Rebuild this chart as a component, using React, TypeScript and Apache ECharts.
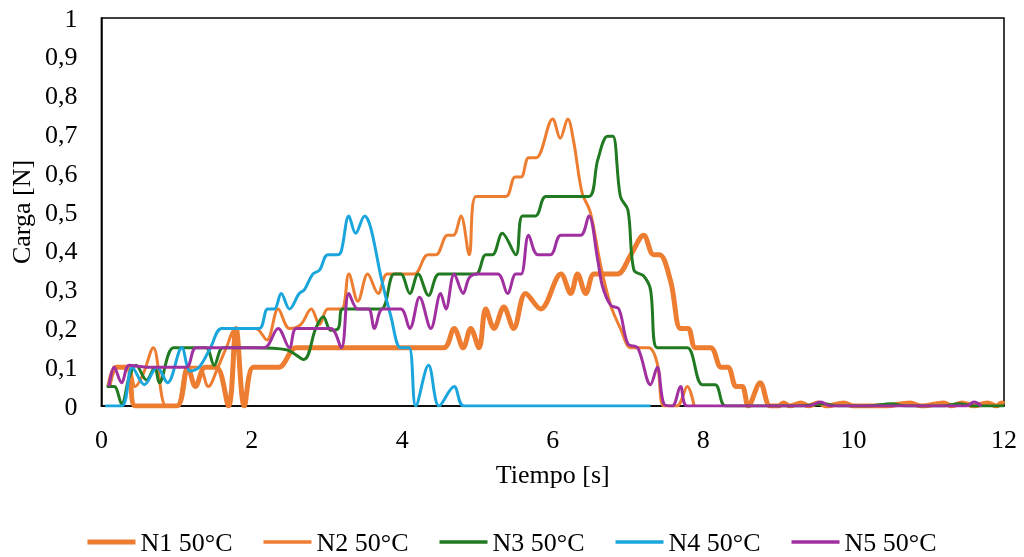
import React, { useEffect, useRef } from "react";
import * as echarts from "echarts";

const seriesNames = ["N1 50°C", "N2 50°C", "N3 50°C", "N4 50°C", "N5 50°C"];
const xTicks = [0, 2, 4, 6, 8, 10, 12];

const n1: number[][] = [
  [0.1, 0.05], [0.2, 0.1], [0.35, 0.1], [0.45, 0], [0.7, 0], [1.0, 0], [1.15, 0.1], [1.25, 0.05], [1.38, 0.1],
  [1.53, 0.1], [1.69, 0], [1.79, 0.2], [1.9, 0], [2.02, 0.1], [2.2, 0.1], [2.36, 0.1], [2.59, 0.15], [3.0, 0.15],
  [3.5, 0.15], [4.0, 0.15], [4.55, 0.15], [4.69, 0.2], [4.81, 0.15], [4.91, 0.2], [5.02, 0.15], [5.11, 0.25],
  [5.22, 0.2], [5.35, 0.255], [5.48, 0.2], [5.64, 0.29], [5.84, 0.25], [6.11, 0.34], [6.24, 0.29], [6.33, 0.34],
  [6.44, 0.29], [6.55, 0.34], [6.7, 0.34], [6.86, 0.34], [7.04, 0.39], [7.21, 0.44], [7.34, 0.39], [7.42, 0.39],
  [7.57, 0.32], [7.7, 0.2], [7.8, 0.2], [7.9, 0.15], [8.1, 0.15], [8.24, 0.1], [8.33, 0.1], [8.44, 0.05],
  [8.52, 0.05], [8.6, 0], [8.76, 0.06], [8.89, 0], [9.0, 0], [9.07, 0.008], [9.15, 0], [9.3, 0.008], [9.4, 0],
  [9.53, 0.008], [9.65, 0], [9.87, 0.008], [10.0, 0], [10.4, 0], [10.75, 0.008], [10.9, 0], [11.2, 0.008],
  [11.3, 0], [11.44, 0.008], [11.6, 0], [11.78, 0.008], [11.9, 0], [11.97, 0.008], [12, 0.005]
];

const n2: number[][] = [
  [0.15, 0.1], [0.35, 0.1], [0.45, 0.05], [0.55, 0.08], [0.69, 0.15], [0.86, 0], [1.0, 0], [1.15, 0.1],
  [1.3, 0.1], [1.42, 0.05], [1.55, 0.1], [1.66, 0.15], [1.8, 0.2], [2.05, 0.2], [2.2, 0.17], [2.35, 0.25],
  [2.5, 0.2], [2.65, 0.21], [2.79, 0.25], [2.9, 0.21], [3.01, 0.25], [3.19, 0.25], [3.29, 0.34], [3.41, 0.27],
  [3.54, 0.34], [3.68, 0.29], [3.8, 0.34], [4.0, 0.34], [4.16, 0.34], [4.34, 0.39], [4.45, 0.39], [4.6, 0.44],
  [4.68, 0.44], [4.78, 0.49], [4.89, 0.39], [4.98, 0.54], [5.2, 0.54], [5.38, 0.54], [5.5, 0.59], [5.58, 0.59],
  [5.68, 0.64], [5.78, 0.64], [6.0, 0.74], [6.1, 0.69], [6.2, 0.74], [6.28, 0.68], [6.39, 0.55], [6.5, 0.5],
  [6.64, 0.36], [6.77, 0.26], [6.9, 0.2], [7.04, 0.15], [7.15, 0.15], [7.28, 0.15], [7.39, 0.11], [7.48, 0],
  [7.65, 0], [7.79, 0.05], [7.88, 0]
];

const n3: number[][] = [
  [0.07, 0.05], [0.17, 0.05], [0.27, 0.005], [0.37, 0.075], [0.46, 0.105], [0.6, 0.067], [0.71, 0.1],
  [0.77, 0.06], [0.96, 0.15], [1.2, 0.15], [1.39, 0.15], [1.5, 0.105], [1.62, 0.15], [2.0, 0.15], [2.46, 0.145],
  [2.69, 0.12], [2.85, 0.2], [2.95, 0.23], [3.05, 0.195], [3.15, 0.2], [3.21, 0.25], [3.5, 0.25], [3.72, 0.25],
  [3.89, 0.34], [3.98, 0.34], [4.1, 0.29], [4.21, 0.34], [4.35, 0.285], [4.49, 0.34], [4.75, 0.34], [4.98, 0.34],
  [5.11, 0.39], [5.2, 0.39], [5.33, 0.445], [5.51, 0.39], [5.6, 0.49], [5.77, 0.49], [5.91, 0.54], [6.2, 0.54],
  [6.48, 0.54], [6.6, 0.635], [6.73, 0.695], [6.8, 0.695], [6.9, 0.54], [7.0, 0.505], [7.08, 0.35], [7.21, 0.335],
  [7.3, 0.3], [7.39, 0.15], [7.6, 0.15], [7.79, 0.15], [7.99, 0.055], [8.16, 0.055], [8.3, 0], [8.8, 0],
  [9.3, 0], [9.6, 0.006], [9.8, 0], [10.2, 0], [10.5, 0.006], [10.7, 0], [11.2, 0], [11.4, 0.006], [11.6, 0], [12, 0]
];

const n4: number[][] = [
  [0.05, 0], [0.27, 0], [0.41, 0.1], [0.57, 0.055], [0.74, 0.1], [0.88, 0.06], [1.07, 0.15], [1.18, 0.09],
  [1.3, 0.1], [1.45, 0.15], [1.6, 0.2], [1.85, 0.2], [2.1, 0.2], [2.21, 0.25], [2.3, 0.25], [2.39, 0.29],
  [2.5, 0.25], [2.63, 0.29], [2.7, 0.3], [2.81, 0.34], [2.9, 0.35], [3.01, 0.39], [3.14, 0.39], [3.19, 0.4],
  [3.29, 0.49], [3.38, 0.445], [3.5, 0.49], [3.58, 0.46], [3.72, 0.33], [3.85, 0.23], [3.98, 0.15], [4.09, 0.15],
  [4.18, 0], [4.35, 0.105], [4.49, 0], [4.69, 0.05], [4.82, 0], [5.5, 0], [6.5, 0], [7.3, 0]
];

const n5: number[][] = [
  [0.1, 0.05], [0.17, 0.1], [0.27, 0.06], [0.37, 0.105], [0.6, 0.1], [0.9, 0.1], [1.13, 0.1], [1.26, 0.15],
  [1.6, 0.15], [2.16, 0.15], [2.35, 0.2], [2.5, 0.15], [2.59, 0.2], [2.8, 0.2], [3.05, 0.2], [3.19, 0.15],
  [3.29, 0.29], [3.41, 0.25], [3.55, 0.25], [3.63, 0.2], [3.74, 0.25], [3.98, 0.25], [4.1, 0.2], [4.23, 0.28],
  [4.38, 0.2], [4.51, 0.29], [4.58, 0.25], [4.69, 0.34], [4.81, 0.29], [4.89, 0.33], [5.0, 0.34], [5.27, 0.34],
  [5.4, 0.29], [5.51, 0.34], [5.58, 0.34], [5.68, 0.44], [5.8, 0.39], [5.97, 0.39], [6.11, 0.44], [6.37, 0.44],
  [6.48, 0.49], [6.6, 0.375], [6.66, 0.31], [6.77, 0.26], [6.88, 0.25], [7.0, 0.16], [7.13, 0.15], [7.3, 0.055],
  [7.39, 0.1], [7.48, 0.005], [7.59, 0], [7.7, 0.05], [7.79, 0], [8.5, 0], [9.4, 0], [9.56, 0.01], [9.7, 0],
  [10.5, 0], [11.5, 0], [11.6, 0.01], [11.7, 0]
];

const seriesData = [n1, n2, n3, n4, n5];
const colors = ["#ED7D31", "#ED7D31", "#217A21", "#1AA6DD", "#A0309F"];
const widths = [5, 3, 3, 3, 3];

const FONT = "Liberation Serif";

export default function App() {
  const ref = useRef<HTMLDivElement>(null);
  useEffect(() => {
    if (!ref.current) return;
    const chart = echarts.init(ref.current, undefined, { renderer: "svg" });
    chart.setOption({
      animation: false,
      textStyle: { fontFamily: FONT, color: "#000" },
      grid: {
        left: 100, right: 20, top: 18, bottom: 151,
        show: true, borderColor: "#000", borderWidth: 1.5,
      },
      legend: {
        data: seriesNames.map((name, i) => ({
          name,
          icon: i === 0 ? "path://M0,0H48V5H0Z" : "path://M0,0H48V3.5H0Z",
        })),
        top: 524,
        left: "center",
        itemWidth: 48,
        itemHeight: 5,
        itemGap: 31,
        textStyle: { fontFamily: FONT, fontSize: 26, color: "#000" },
      },
      xAxis: {
        type: "value",
        min: xTicks[0],
        max: xTicks[xTicks.length - 1],
        interval: 2,
        name: "Tiempo [s]",
        nameLocation: "middle",
        nameGap: 55,
        nameTextStyle: { fontFamily: FONT, fontSize: 26, color: "#000" },
        axisLine: { show: true, lineStyle: { color: "#000", width: 1.5 } },
        axisTick: { show: false },
        splitLine: { show: false },
        axisLabel: { fontFamily: FONT, fontSize: 26, color: "#000", margin: 20 },
      },
      yAxis: {
        type: "value",
        min: 0,
        max: 1,
        interval: 0.1,
        name: "Carga [N]",
        nameLocation: "middle",
        nameGap: 58,
        nameRotate: 90,
        nameTextStyle: { fontFamily: FONT, fontSize: 26, color: "#000" },
        axisLine: { show: true, lineStyle: { color: "#000", width: 1.5 } },
        axisTick: { show: false },
        splitLine: { show: false },
        axisLabel: {
          fontFamily: FONT, fontSize: 26, color: "#000", margin: 24,
          formatter: (v: number) => String(Math.round(v * 10) / 10).replace(".", ","),
        },
      },
      series: seriesNames.map((name, i) => ({
        name,
        type: "line",
        data: seriesData[i],
        smooth: 0.35,
        symbol: "none",
        showSymbol: false,
        color: colors[i],
        lineStyle: { color: colors[i], width: widths[i] },
      })),
    });
    return () => chart.dispose();
  }, []);
  return (
    <div
      ref={ref}
      style={{ position: "fixed", left: 0, top: 0, width: 1024, height: 557 }}
    />
  );
}
